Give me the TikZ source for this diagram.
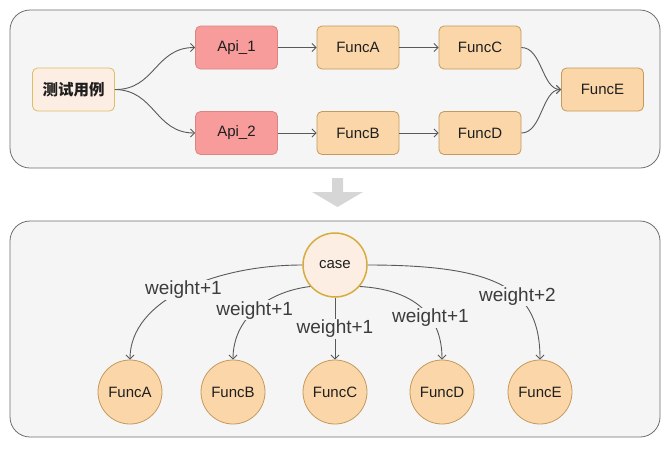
\documentclass[tikz,border=0pt]{standalone}
\usepackage{fontspec}
\setmainfont{Liberation Sans}
\newfontfamily\cjk{Noto Sans CJK SC}
\usetikzlibrary{arrows.meta}
\definecolor{panelbg}{HTML}{F5F5F5}
\definecolor{panelline}{HTML}{6E6E6E}
\definecolor{funcfill}{HTML}{FAD6A9}
\definecolor{funcline}{HTML}{C49A5C}
\definecolor{apifill}{HTML}{F79C9B}
\definecolor{apiline}{HTML}{D98683}
\definecolor{casefill}{HTML}{FDEEE3}
\definecolor{caseline}{HTML}{D6AC3E}
\definecolor{edgegray}{HTML}{595959}
\definecolor{labeltext}{HTML}{3C3C3C}
\definecolor{bigarrow}{HTML}{D6D6D6}

\begin{document}
\begin{tikzpicture}[x=1pt, y=-1pt, >={Straight Barb[length=4pt,width=8pt]},
    font=\fontsize{15}{18}\selectfont, text=black!88,
    panel/.style={draw=panelline, fill=panelbg, rounded corners=20pt, line width=0.8pt},
    box/.style={draw=funcline, fill=funcfill, rounded corners=5pt, line width=0.8pt,
      minimum width=82pt, minimum height=43pt, inner sep=0pt},
    apibox/.style={box, draw=apiline, fill=apifill},
    casebox/.style={box, draw=caseline!80, fill=casefill},
    ball/.style={circle, draw=funcline, fill=funcfill, line width=0.8pt, minimum size=64pt, inner sep=0pt},
    flow/.style={->, draw=edgegray, line width=0.9pt},
    lbl/.style={fill=panelbg, text=labeltext, font=\fontsize{19}{22}\selectfont, inner sep=1pt}]
  \useasboundingbox (0,0) rectangle (670,448);

  % upper panel: call chain
  \draw[panel] (10,10) rectangle (660,168);
  \node[casebox] (test) at (73.5,89.5) {\cjk\bfseries\fontsize{15.5}{18}\selectfont 测试用例};
  \node[apibox] (api1) at (236.5,47.5) {Api\_1};
  \node[apibox] (api2) at (236.5,133) {Api\_2};
  \node[box] (fa) at (358,47.5) {FuncA};
  \node[box] (fb) at (358,133) {FuncB};
  \node[box] (fc) at (480,47.5) {FuncC};
  \node[box] (fd) at (480,133) {FuncD};
  \node[box] (fe) at (602.5,89.5) {FuncE};
  \draw[flow] (test.east) .. controls (155,90) and (155,47.5) .. (api1.west);
  \draw[flow] (test.east) .. controls (155,90) and (155,133) .. (api2.west);
  \draw[flow] (api1) -- (fa);
  \draw[flow] (api2) -- (fb);
  \draw[flow] (fa) -- (fc);
  \draw[flow] (fb) -- (fd);
  \draw[flow] (fc.east) .. controls (542,47.5) and (542,89.5) .. (fe.west);
  \draw[flow] (fd.east) .. controls (542,133) and (542,89.5) .. (fe.west);

  \fill[bigarrow] (332,178) -- (343,178) -- (343,192) -- (363,192) -- (337.5,207)
    -- (312,192) -- (332,192) -- cycle;

  % lower panel: weights
  \draw[panel] (10,221) rectangle (660,437);
  \node[ball, draw=caseline, fill=casefill, line width=1.5pt] (case) at (335,265) {case};
  \foreach \name/\x in {A/130, B/233, C/335, D/442, E/540}
    \node[ball] (b\name) at (\x,392) {Func\name};
  \draw[flow] (case.west) .. controls (215,265) and (130,300) .. (bA.north)
    node[lbl, pos=0.5] {weight+1};
  \draw[flow] (case.221) .. controls (265,292) and (233,320) .. (bB.north)
    node[lbl, pos=0.5] {weight+1};
  \draw[flow] (case.south) -- (bC.north) node[lbl, midway] {weight+1};
  \draw[flow] (case.-41) .. controls (420,290) and (442,320) .. (bD.north)
    node[lbl, pos=0.6] {weight+1};
  \draw[flow] (case.east) .. controls (500,265) and (540,290) .. (bE.north)
    node[lbl, pos=0.6] {weight+2};
\end{tikzpicture}
\end{document}
